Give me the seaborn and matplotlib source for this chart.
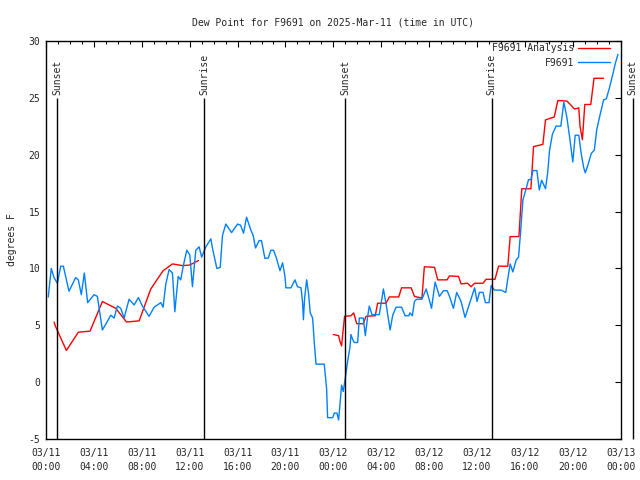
import numpy as np
import pandas as pd
import matplotlib
matplotlib.use("Agg")
import matplotlib.pyplot as plt
import matplotlib.dates as mdates
from matplotlib.lines import Line2D
from matplotlib.ticker import MultipleLocator
import seaborn as sns

# ---------------- data ----------------
base_time = "2025-03-11 00:00"
title_text = "Dew Point for F9691 on 2025-Mar-11 (time in UTC)"
ylabel_text = "degrees F"
obs_name = "F9691"
ana_name = "F9691 Analysis"

# station observations (hours since 03/11 00:00 UTC, deg F)
obs_hours = [0.19, 0.44, 0.67, 0.95, 1.23, 1.45, 1.92, 2.48, 2.70, 2.95, 3.20, 3.48, 4.01, 4.29,
             4.71, 4.99, 5.41, 5.69, 5.96, 6.24, 6.52, 6.94, 7.36, 7.72, 8.05, 8.61, 9.03, 9.59,
             9.78, 10.00, 10.28, 10.56, 10.76, 11.04, 11.25, 11.48, 11.76, 12.01, 12.23, 12.51,
             12.79, 13.00, 13.35, 13.77, 13.90, 14.27, 14.55, 14.74, 15.02, 15.50, 16.00, 16.25,
             16.50, 16.75, 17.10, 17.30, 17.50, 17.80, 18.00, 18.28, 18.56, 18.78, 19.00, 19.25,
             19.54, 19.76, 19.96, 20.04, 20.46, 20.79, 21.00, 21.30, 21.43, 21.50, 21.60, 21.77,
             21.93, 22.07, 22.27, 22.40, 22.55, 23.24, 23.44, 23.52, 23.94, 24.08, 24.30, 24.44,
             24.55, 24.69, 24.83, 25.00, 25.20, 25.39, 25.47, 25.60, 25.75, 26.03, 26.17, 26.50,
             26.67, 26.87, 27.00, 27.23, 27.84, 28.04, 28.18, 28.40, 28.74, 28.96, 29.24, 29.70,
             29.99, 30.30, 30.40, 30.60, 30.77, 30.96, 31.40, 31.75, 32.00, 32.20, 32.50, 32.86,
             33.20, 33.50, 33.70, 34.03, 34.30, 34.67, 35.00, 35.40, 35.80, 36.00, 36.20, 36.50,
             36.70, 37.00, 37.18, 37.45, 38.00, 38.40, 38.60, 38.77, 38.99, 39.27, 39.47, 39.63,
             39.83, 40.10, 40.30, 40.50, 40.66, 41.00, 41.20, 41.40, 41.72, 41.90, 42.06, 42.30,
             42.60, 43.00, 43.25, 43.50, 43.70, 44.00, 44.20, 44.50, 44.70, 44.90, 45.04, 45.27,
             45.54, 45.80, 46.00, 46.30, 46.57, 46.80, 47.07, 47.35, 47.55, 47.77]
obs_values = [7.5, 10.0, 9.2, 8.7, 10.2, 10.2, 8.0, 9.2, 9.0, 7.7, 9.6, 7.0, 7.7, 7.55,
              4.6, 5.1, 5.9, 5.65, 6.7, 6.5, 5.65, 7.3, 6.8, 7.45, 6.7, 5.8, 6.6, 7.0,
              6.6, 8.6, 9.9, 9.6, 6.2, 9.3, 9.0, 10.3, 11.6, 11.2, 8.4, 11.6,
              11.9, 11.0, 11.9, 12.6, 11.8, 10.0, 10.1, 12.9, 13.9, 13.15, 13.9, 13.8,
              13.1, 14.5, 13.4, 12.9, 11.8, 12.45, 12.45, 10.9, 10.9, 11.6, 11.6, 10.9,
              9.8, 10.5, 9.3, 8.3, 8.3, 9.0, 8.4, 8.3, 7.0, 5.5, 7.4, 9.0,
              7.8, 6.1, 5.65, 3.6, 1.6, 1.6, -0.6, -3.1, -3.1, -2.7, -2.7, -3.3,
              -2.0, -0.25, -0.8, 0.4, 1.9, 3.1, 4.2, 3.8, 3.5, 3.5, 5.65, 5.65,
              4.1, 5.8, 6.7, 5.95, 5.95, 7.3, 8.2, 6.9, 4.6, 5.9, 6.6, 6.6,
              5.85, 5.85, 6.1, 5.85, 7.1, 7.3, 7.3, 8.2, 7.3, 6.5, 8.8, 7.55,
              8.05, 8.05, 7.55, 6.5, 7.9, 7.1, 5.7, 7.0, 8.3, 7.1, 7.9, 7.9,
              7.0, 7.0, 8.5, 8.1, 8.1, 7.9, 9.3, 10.4, 9.7, 10.75, 11.0, 13.1,
              16.0, 17.0, 17.8, 17.8, 18.6, 18.6, 16.9, 17.75, 17.0, 18.4, 20.4, 21.8,
              22.5, 22.5, 24.6, 23.3, 21.8, 19.35, 21.7, 21.7, 20.1, 18.9, 18.4, 19.1,
              20.1, 20.4, 22.2, 23.6, 24.8, 24.9, 25.9, 27.1, 28.0, 28.8]

# analysis, first segment
ana1_hours = [0.67, 0.80, 1.70, 2.70, 3.68, 4.71, 5.83, 6.72, 7.78, 8.75, 9.78, 10.56,
              11.40, 12.00, 12.74]
ana1_values = [5.3, 4.9, 2.8, 4.4, 4.5, 7.1, 6.5, 5.3, 5.4, 8.2, 9.8, 10.4,
               10.25, 10.3, 10.7]
# analysis, second segment
ana2_hours = [24.00, 24.44, 24.55, 24.69, 24.80, 24.94, 25.47, 25.70, 25.95, 26.50, 26.73,
              27.50, 27.70, 28.40, 28.68, 29.46, 29.70, 30.50, 30.77, 31.40, 31.60, 32.45,
              32.72, 33.50, 33.70, 34.45, 34.67, 35.20, 35.50, 35.80, 36.50, 36.76, 37.50,
              37.80, 38.57, 38.77, 39.50, 39.74, 40.50, 40.72, 41.50, 41.72, 42.45, 42.75,
              43.50, 43.70, 44.15, 44.50, 44.60, 44.80, 45.00, 45.50, 45.77, 46.57]
ana2_values = [4.2, 4.1, 3.6, 3.2, 4.4, 5.8, 5.85, 6.1, 5.15, 5.15, 5.8,
               5.85, 6.95, 6.95, 7.5, 7.5, 8.3, 8.3, 7.55, 7.4, 10.15, 10.1,
               9.0, 9.0, 9.35, 9.3, 8.65, 8.7, 8.4, 8.7, 8.7, 9.05, 9.05,
               10.2, 10.2, 12.8, 12.8, 17.0, 17.0, 20.7, 20.9, 23.05, 23.3, 24.75,
               24.7, 24.5, 24.0, 24.1, 22.5, 21.3, 24.4, 24.4, 26.7, 26.7]

sun_labels = ["Sunset", "Sunrise", "Sunset", "Sunrise", "Sunset"]
sun_hours = [0.95, 13.22, 25.0, 37.23, 49.0]

# ---------------- build frames ----------------
t0 = pd.Timestamp(base_time)
def to_time(hours):
    return t0 + pd.to_timedelta(np.array(hours), unit="h")

df = pd.concat([
    pd.DataFrame({"time": to_time(ana1_hours), "value": ana1_values,
                  "series": ana_name, "segment": "a1"}),
    pd.DataFrame({"time": to_time(ana2_hours), "value": ana2_values,
                  "series": ana_name, "segment": "a2"}),
    pd.DataFrame({"time": to_time(obs_hours), "value": obs_values,
                  "series": obs_name, "segment": "o1"}),
], ignore_index=True)

red = "#ff0000"
blue = "#0080ff"

sns.set_style("white")
plt.rcParams["font.family"] = ["DejaVu Sans Mono", "DejaVu Sans"]
plt.rcParams["axes.unicode_minus"] = False
fs = 7

fig = plt.figure(figsize=(6.4, 4.8), dpi=100)
L, R, T, B = 46, 620.7, 40.7, 439.3
ax = fig.add_axes([L / 640, 1 - B / 480, (R - L) / 640, (B - T) / 480])

sns.lineplot(data=df, x="time", y="value", hue="series", units="segment",
             estimator=None, palette={ana_name: red, obs_name: blue},
             linewidth=1.0, ax=ax, legend=False, sort=False)

ax.set_xlim(t0, t0 + pd.Timedelta(hours=48))
ax.set_ylim(-5, 30)

# sunrise / sunset markers
sun_t = to_time(sun_hours)
ax.vlines(sun_t, -5, 25, color="black", linewidth=1.0, clip_on=False)
for t, lab in zip(sun_t, sun_labels):
    ax.text(t, 25.25, lab, rotation=90, ha="center", va="bottom",
            fontsize=fs, clip_on=False)

ax.xaxis.set_major_locator(mdates.HourLocator(byhour=range(0, 24, 4)))
ax.xaxis.set_minor_locator(mdates.HourLocator())
ax.xaxis.set_major_formatter(mdates.DateFormatter("%m/%d\n%H:%M"))
ax.yaxis.set_major_locator(MultipleLocator(5))

ax.tick_params(which="both", direction="in", top=True, right=True,
               labelsize=fs, color="black", width=0.8)
ax.tick_params(which="major", length=4.0, pad=4)
ax.tick_params(axis="x", which="major", pad=6)
ax.tick_params(which="minor", length=2.0)
for lab in ax.get_xticklabels():
    lab.set_linespacing(1.5)
for s in ax.spines.values():
    s.set_color("black")
    s.set_linewidth(1.0)

ax.set_xlabel("")
ax.set_ylabel(ylabel_text, fontsize=fs)
ax.yaxis.set_label_coords((17 - L) / (R - L), 0.5)
ax.set_title(title_text, fontsize=fs, pad=11)

handles = [Line2D([], [], color=red, lw=1.0), Line2D([], [], color=blue, lw=1.0)]
ax.legend(handles, [ana_name, obs_name], loc="upper right",
          bbox_to_anchor=((610 - L) / (R - L), 1 - 2.5 / (B - T)), frameon=False,
          markerfirst=False, fontsize=fs, borderpad=0, borderaxespad=0,
          handlelength=3.3, handletextpad=0.4, labelspacing=0.45)

fig.savefig("out.png", dpi=100)
